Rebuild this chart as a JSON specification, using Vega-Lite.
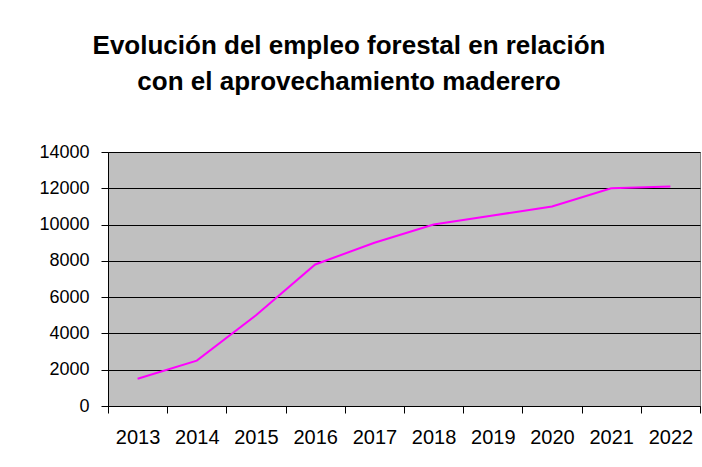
{
  "$schema": "https://vega.github.io/schema/vega-lite/v6.json",
  "width": 592,
  "height": 254,
  "autosize": {"type": "none"},
  "padding": {"left": 108, "top": 152, "right": 2, "bottom": 61},
  "background": "white",
  "title": {
    "text": ["Evolución del empleo forestal en relación", "con el aprovechamiento maderero"],
    "font": "Liberation Sans",
    "fontSize": 26,
    "fontWeight": "bold",
    "color": "black",
    "anchor": "middle",
    "frame": "group",
    "dx": -55,
    "baseline": "alphabetic",
    "lineHeight": 36,
    "offset": 27
  },
  "data": {
    "values": [
      {"year": "2013", "value": 1500},
      {"year": "2014", "value": 2500},
      {"year": "2015", "value": 5000},
      {"year": "2016", "value": 7800},
      {"year": "2017", "value": 9000},
      {"year": "2018", "value": 10000},
      {"year": "2019", "value": 10500},
      {"year": "2020", "value": 11000},
      {"year": "2021", "value": 12000},
      {"year": "2022", "value": 12100}
    ]
  },
  "config": {
    "view": {"fill": "#c0c0c0", "stroke": "#808080", "strokeWidth": 1},
    "axis": {
      "labelFont": "Liberation Sans",
      "labelColor": "black",
      "domainColor": "black",
      "tickColor": "black",
      "title": null
    }
  },
  "mark": {"type": "line", "color": "#ff00ff", "strokeWidth": 2},
  "encoding": {
    "x": {
      "field": "year",
      "type": "ordinal",
      "scale": {"paddingInner": 0, "paddingOuter": 0},
      "axis": {
        "labelAngle": 0,
        "labelFontSize": 20,
        "tickBand": "extent",
        "tickSize": 7,
        "labelPadding": 14,
        "grid": false,
        "domainColor": "black"
      }
    },
    "y": {
      "field": "value",
      "type": "quantitative",
      "scale": {"domain": [0, 14000], "nice": false},
      "axis": {
        "values": [0, 2000, 4000, 6000, 8000, 10000, 12000, 14000],
        "format": "d",
        "labelFontSize": 18,
        "tickSize": 7,
        "labelPadding": 12,
        "grid": true,
        "gridColor": "black",
        "gridOpacity": 1,
        "gridWidth": 1
      }
    }
  }
}
